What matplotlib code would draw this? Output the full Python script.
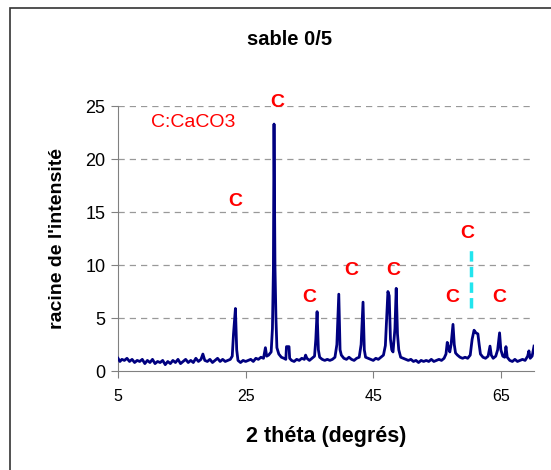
import matplotlib.pyplot as plt
from matplotlib.patches import Rectangle

plt.rcParams['font.family'] = ['Liberation Sans', 'DejaVu Sans']

# diffractogram: 2 theta (deg) / sqrt(intensity)
theta = [5.0, 5.3, 5.6, 6.0, 6.4, 6.8, 7.2, 7.6, 8.0, 8.4, 8.8, 9.2, 9.6, 10.0,
         10.4, 10.8, 11.2, 11.6, 12.0, 12.4, 12.8, 13.2, 13.6, 14.0, 14.4, 14.8,
         15.2, 15.6, 16.0, 16.4, 16.8, 17.2, 17.6, 18.0, 18.3, 18.6, 19.0, 19.4,
         19.8, 20.2, 20.6, 21.0, 21.4, 21.8, 22.2, 22.6, 22.9, 23.1, 23.4, 23.6,
         23.8, 24.2, 24.6, 25.0, 25.4, 25.8, 26.2, 26.6, 27.0, 27.4, 27.8, 28.1,
         28.3, 28.6, 29.0, 29.2, 29.35, 29.45, 29.6, 29.75, 29.9, 30.2, 30.6,
         31.0, 31.3, 31.4, 31.8, 31.9, 32.2, 32.6, 33.0, 33.4, 33.8, 34.2, 34.4,
         34.6, 35.0, 35.4, 35.8, 36.0, 36.2, 36.4, 36.6, 37.0, 37.4, 37.8, 38.2,
         38.6, 39.0, 39.3, 39.6, 39.8, 40.0, 40.4, 40.8, 41.2, 41.6, 42.0, 42.4,
         42.8, 43.1, 43.4, 43.6, 43.8, 44.2, 44.6, 45.0, 45.4, 45.8, 46.2, 46.6,
         46.9, 47.1, 47.3, 47.5, 47.7, 47.9, 48.1, 48.4, 48.6, 48.8, 49.0, 49.3,
         49.7, 50.1, 50.5, 50.9, 51.3, 51.7, 52.1, 52.5, 52.9, 53.3, 53.7, 54.1,
         54.5, 54.9, 55.3, 55.7, 56.1, 56.4, 56.6, 56.8, 57.0, 57.2, 57.5, 57.7,
         57.9, 58.2, 58.6, 59.0, 59.4, 59.8, 60.2, 60.5, 60.8, 61.1, 61.4, 61.6,
         61.8, 62.2, 62.6, 63.0, 63.3, 63.5, 63.8, 64.2, 64.5, 64.8, 65.0, 65.3,
         65.6, 65.8, 66.0, 66.4, 66.8, 67.2, 67.6, 68.0, 68.4, 68.8, 69.2, 69.4,
         69.6, 69.9, 70.2]
racine = [1.2, 0.9, 1.1, 1.0, 1.2, 0.9, 1.1, 0.8, 1.0, 0.9, 1.1, 0.7, 1.0, 0.8,
          1.1, 0.7, 0.9, 0.8, 1.0, 0.6, 0.9, 0.7, 1.0, 0.8, 1.1, 0.7,
          0.9, 1.1, 0.8, 1.0, 0.8, 1.2, 0.9, 1.1, 1.6, 1.0, 0.9, 1.1,
          0.8, 1.0, 1.2, 0.9, 1.1, 0.9, 1.0, 1.1, 1.4, 3.5, 5.9, 2.0,
          1.0, 0.8, 1.0, 0.9, 1.0, 1.1, 0.9, 1.2, 1.1, 1.3, 1.2, 2.2,
          1.4, 1.5, 1.8, 4.0, 9.5, 23.3, 9.8, 5.0, 2.2, 1.6, 1.3,
          1.2, 1.1, 2.3, 2.3, 1.2, 1.0, 0.9, 1.1, 1.0, 1.2, 1.1, 1.5,
          1.2, 1.0, 1.2, 1.4, 3.0, 5.6, 2.0, 1.3, 1.1, 1.0, 1.1, 1.0,
          1.1, 1.3, 2.5, 7.25, 2.0, 1.5, 1.2, 1.1, 1.3, 1.1, 1.0, 1.2,
          1.3, 2.5, 6.5, 2.0, 1.3, 1.2, 1.1, 1.0, 1.2, 1.1, 1.3, 1.5,
          2.4, 5.0, 7.5, 7.1, 3.0, 2.0, 1.8, 4.0, 7.8, 3.5, 2.0, 1.3,
          1.2, 1.1, 1.0, 1.1, 0.9, 1.0, 0.8, 1.0, 0.9, 1.0, 0.9, 1.1,
          0.9, 1.0, 1.1, 1.0, 1.2, 1.6, 2.7, 2.2, 1.8, 2.5, 4.4, 2.5,
          1.7, 1.5, 1.3, 1.2, 1.3, 1.2, 1.5, 3.0, 3.85, 3.6, 3.5, 2.5,
          1.6, 1.3, 1.2, 1.4, 2.35, 1.5, 1.2, 1.4, 2.0, 3.6, 2.0, 1.4,
          1.3, 2.3, 1.3, 1.0, 0.9, 1.1, 0.9, 1.0, 1.1, 1.0, 1.4, 1.9,
          1.2, 1.4, 2.35]

# "C" marks (calcite peaks)
c_x = [23.4, 30.0, 34.9, 41.5, 48.2, 57.4, 59.8, 64.7]
c_y = [16.0, 25.3, 6.9, 9.5, 9.5, 6.9, 13.0, 6.9]

# cyan marker line
mark_x = [60.3, 60.3]
mark_y = [5.9, 11.4]

xticks = [5, 25, 45, 65]
yticks = [0, 5, 10, 15, 20, 25]

fig = plt.figure(figsize=(5.51, 4.70), dpi=100)
ax = fig.add_axes([0.2142, 0.2106, 0.7550, 0.5638])

# outer chart frame (cut by the image on right/bottom)
fig.patches.append(Rectangle((0.018, -0.05), 1.2, 1.033, transform=fig.transFigure,
                             fill=False, edgecolor='#333333', linewidth=1.2))

for yv in yticks[1:]:
    ax.axhline(yv, color='#999999', linestyle=(0, (5, 4)), linewidth=0.9, zorder=0)

ax.plot(theta, racine, color='#000080', linewidth=2.0, zorder=3)
ax.plot(mark_x, mark_y, color='#22E5EE', linestyle=(0, (3, 1.5)), linewidth=2.5, zorder=2)

for x, y in zip(c_x, c_y):
    ax.text(x, y, 'C', color='#FF0000', fontsize=14, fontweight='bold',
            ha='center', va='center', clip_on=False)
ax.text(10.2, 23.4, 'C:CaCO3', color='#FF0000', fontsize=14, ha='left', va='center')

ax.set_xlim(5, 70.2)
ax.set_ylim(0, 25)
ax.set_xticks(xticks)
ax.set_yticks(yticks)
ax.tick_params(axis='x', labelsize=11.5, direction='out', length=5, color='#808080', pad=8)
ax.tick_params(axis='y', labelsize=13, direction='out', length=5, color='#808080', pad=4)

for s in ['top', 'right']:
    ax.spines[s].set_visible(False)
for s in ['left', 'bottom']:
    ax.spines[s].set_color('#808080')

ax.set_xlabel("2 théta (degrés)", fontsize=15.5, fontweight='bold', labelpad=16)
ax.set_ylabel("racine de l'intensité", fontsize=14, fontweight='bold', labelpad=14)
fig.text(0.526, 0.915, 'sable 0/5', fontsize=14.5, fontweight='bold', ha='center', va='center')

fig.savefig('out.png', dpi=100)
